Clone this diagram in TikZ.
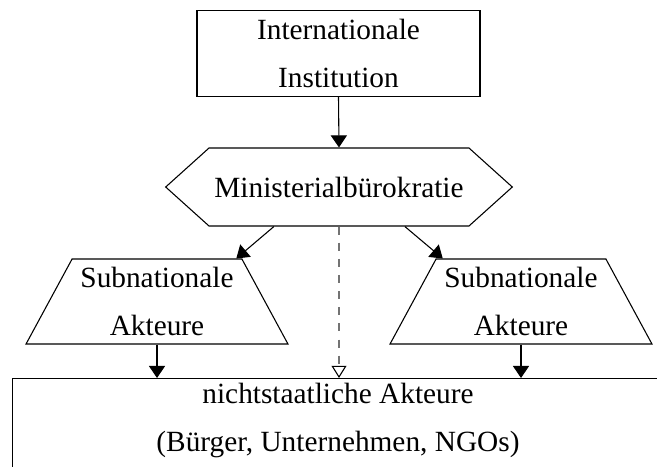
\documentclass[tikz,border=0pt]{standalone}
\usepackage{fontspec}
\setmainfont{Liberation Serif}
\usetikzlibrary{positioning,shapes.geometric,shapes.symbols,arrows.meta}

\begin{document}
\begin{tikzpicture}[
    x=0.3717pt, y=-0.3717pt,
    font=\fontsize{10.9}{18}\selectfont,
    box/.style={rectangle, draw, align=center, inner sep=0pt},
    hexa/.style={signal, signal to=west and east, signal pointer angle=84, draw, minimum width=119.3pt, minimum height=29pt, inner sep=2pt},
    trap/.style={trapezium, trapezium left angle=60, trapezium right angle=60, trapezium stretches=true, draw, align=center, minimum width=97.4pt, minimum height=31.6pt, inner sep=1pt},
    arrow/.style={-{Triangle[length=4.5pt,width=6pt]}},
    hollow/.style={dashed, draw=black!55, -{Triangle[open,length=4.5pt,width=5.5pt,color=black]}}
]
    \useasboundingbox (0,0) rectangle (657,466);
    \clip (0,0) rectangle (657,466);

    \node[box, minimum width=105.2pt, minimum height=32pt] (inst) at (338.5,53.5) {Internationale\\Institution};
    \node[hexa] (min) at (339,187) {Ministerialbürokratie};
    \node[trap] (subl) at (157,301.5) {Subnationale\\Akteure};
    \node[trap] (subr) at (521,301.5) {Subnationale\\Akteure};
    \node[box, anchor=north, minimum width=242.3pt, text height=27.1pt, text depth=15pt] (nsa) at (338,378) {nichtstaatliche Akteure\\(Bürger, Unternehmen, NGOs)};

    \draw[arrow] (inst.south) -- (min.north);
    \draw[arrow] ([xshift=-24.2pt]min.south) -- ([xshift=-2.2pt]subl.top right corner);
    \draw[arrow] ([xshift=24.5pt]min.south) -- ([xshift=2.6pt]subr.top left corner);
    \draw[hollow] (min.south) -- (min.south |- nsa.north);
    \draw[arrow] (subl.south) -- (subl.south |- nsa.north);
    \draw[arrow] (subr.south) -- (subr.south |- nsa.north);
\end{tikzpicture}
\end{document}
